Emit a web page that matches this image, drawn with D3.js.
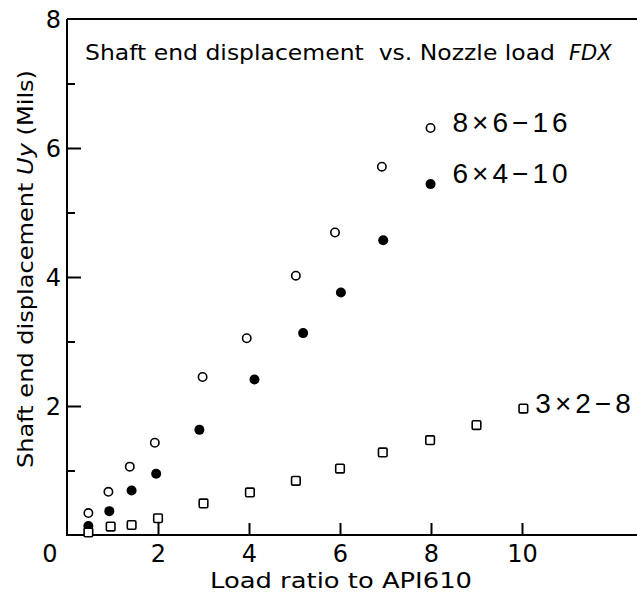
<!DOCTYPE html>
<meta charset="utf-8">
<style>
body { margin: 0; background: #fff; }
svg { display: block; }
.axis-line { stroke: #000; stroke-width: 2px; }
.tick line { stroke: #000; stroke-width: 2px; }
.ticklab text, .lab { font-family: "DejaVu Sans", sans-serif; fill: #000; }
.tag { font-family: "Liberation Sans", Arial, sans-serif; font-size: 28px; letter-spacing: 4px; fill: #000; }
</style>
<body>
<script src="https://cdn.jsdelivr.net/npm/d3@7"></script>
<script>

// 8x6-16 (open circles)
var loadA = [0.47, 0.91, 1.38, 1.93, 2.98, 3.95, 5.03, 5.89, 6.92, 7.99];
var dispA = [0.34, 0.67, 1.06, 1.43, 2.45, 3.05, 4.02, 4.69, 5.71, 6.31];
// 6x4-10 (filled circles)
var loadB = [0.47, 0.93, 1.42, 1.96, 2.91, 4.12, 5.19, 6.02, 6.95, 7.99];
var dispB = [0.14, 0.37, 0.69, 0.95, 1.63, 2.41, 3.13, 3.76, 4.57, 5.44];
// 3x2-8 (squares)
var loadC = [0.47, 0.96, 1.42, 2.0, 3.0, 4.02, 5.03, 6.0, 6.94, 7.98, 9.0, 10.03];
var dispC = [0.04, 0.13, 0.155, 0.26, 0.49, 0.66, 0.84, 1.03, 1.28, 1.47, 1.705, 1.96];

var xMajor = [2, 4, 6, 8, 10];
var yMajor = [2, 4, 6, 8];
var yMinor = [1, 3, 5, 7];

var width = 637, height = 593;

var x = d3.scaleLinear().domain([0, 10]).range([67, 522]);
var y = d3.scaleLinear().domain([0, 8]).range([535, 19]);

var svg = d3.select("body").append("svg")
    .attr("width", width)
    .attr("height", height);

// frame: left, top, bottom
svg.append("line").attr("class", "axis-line")
    .attr("x1", x(0)).attr("x2", x(0)).attr("y1", y(8)).attr("y2", y(0) + 1);
svg.append("line").attr("class", "axis-line")
    .attr("x1", x(0)).attr("x2", width).attr("y1", y(8)).attr("y2", y(8));
svg.append("line").attr("class", "axis-line")
    .attr("x1", x(0)).attr("x2", width).attr("y1", y(0)).attr("y2", y(0));

// y ticks (inside)
svg.append("g").attr("transform", "translate(" + x(0) + ",0)")
    .call(d3.axisRight(y).tickValues([2, 4, 6]).tickSize(14).tickFormat(""))
    .call(function(g) { g.select(".domain").remove(); });
svg.append("g").attr("transform", "translate(" + x(0) + ",0)")
    .call(d3.axisRight(y).tickValues(yMinor).tickSize(8).tickFormat(""))
    .call(function(g) { g.select(".domain").remove(); });

// y labels
svg.append("g").attr("class", "ticklab")
    .attr("transform", "translate(" + (x(0) - 6) + ",0)")
    .call(d3.axisLeft(y).tickValues(yMajor).tickSize(0).tickPadding(0))
    .call(function(g) {
      g.select(".domain").remove();
      g.selectAll("text").attr("font-size", 24).attr("dy", "0.36em");
    });

// x ticks (inside)
svg.append("g").attr("transform", "translate(0," + y(0) + ")")
    .call(d3.axisTop(x).tickValues(xMajor).tickSize(12).tickFormat(""))
    .call(function(g) { g.select(".domain").remove(); });

// x labels
svg.append("g").attr("class", "ticklab")
    .attr("transform", "translate(0," + y(0) + ")")
    .call(d3.axisBottom(x).tickValues(xMajor).tickSize(0).tickPadding(10))
    .call(function(g) {
      g.select(".domain").remove();
      g.selectAll("text").attr("font-size", 24);
    });

svg.append("text").attr("class", "lab")
    .attr("x", x(0) - 17).attr("y", y(0) + 27)
    .attr("font-size", 24).attr("text-anchor", "middle")
    .text("0");

// axis titles
svg.append("text").attr("class", "lab")
    .attr("x", 210).attr("y", 588)
    .attr("font-size", 22)
    .attr("textLength", 262).attr("lengthAdjust", "spacingAndGlyphs")
    .text("Load ratio to API610");

var yl = svg.append("text").attr("class", "lab")
    .attr("transform", "translate(33,269) rotate(-90)")
    .attr("text-anchor", "middle")
    .attr("font-size", 21)
    .attr("textLength", 398).attr("lengthAdjust", "spacingAndGlyphs");
yl.append("tspan").text("Shaft end displacement ");
yl.append("tspan").attr("font-style", "italic").text("Uy");
yl.append("tspan").text(" (Mils)");

// chart title
svg.append("text").attr("class", "lab")
    .attr("x", 85).attr("y", 60)
    .attr("font-size", 21)
    .attr("textLength", 470).attr("lengthAdjust", "spacingAndGlyphs")
    .attr("xml:space", "preserve")
    .text("Shaft end displacement  vs. Nozzle load");
svg.append("text").attr("class", "lab")
    .attr("x", 569).attr("y", 60)
    .attr("font-size", 21).attr("font-style", "italic")
    .text("FDX");

// points
var ptsA = d3.zip(loadA, dispA), ptsB = d3.zip(loadB, dispB), ptsC = d3.zip(loadC, dispC);

svg.append("g").selectAll("circle").data(ptsA).enter().append("circle")
    .attr("cx", function(d) { return x(d[0]); })
    .attr("cy", function(d) { return y(d[1]); })
    .attr("r", 4.2)
    .attr("fill", "#fff").attr("stroke", "#000").attr("stroke-width", 1.6);

svg.append("g").selectAll("circle").data(ptsB).enter().append("circle")
    .attr("cx", function(d) { return x(d[0]); })
    .attr("cy", function(d) { return y(d[1]); })
    .attr("r", 5)
    .attr("fill", "#000");

svg.append("g").selectAll("rect").data(ptsC).enter().append("rect")
    .attr("x", function(d) { return x(d[0]) - 4.3; })
    .attr("y", function(d) { return y(d[1]) - 4.3; })
    .attr("width", 8.6).attr("height", 8.6).attr("rx", 1.2)
    .attr("fill", "#fff").attr("stroke", "#000").attr("stroke-width", 1.6);

// series tags next to their last points
var lastA = ptsA[ptsA.length - 1], lastB = ptsB[ptsB.length - 1], lastC = ptsC[ptsC.length - 1];
svg.append("text").attr("class", "tag")
    .attr("x", x(lastA[0]) + 22).attr("y", y(lastA[1]) + 4)
    .text("8×6−16");
svg.append("text").attr("class", "tag")
    .attr("x", x(lastB[0]) + 22).attr("y", y(lastB[1]) - 1)
    .text("6×4−10");
svg.append("text").attr("class", "tag")
    .attr("x", x(lastC[0]) + 12).attr("y", y(lastC[1]) + 4)
    .text("3×2−8");

</script>
</body>
